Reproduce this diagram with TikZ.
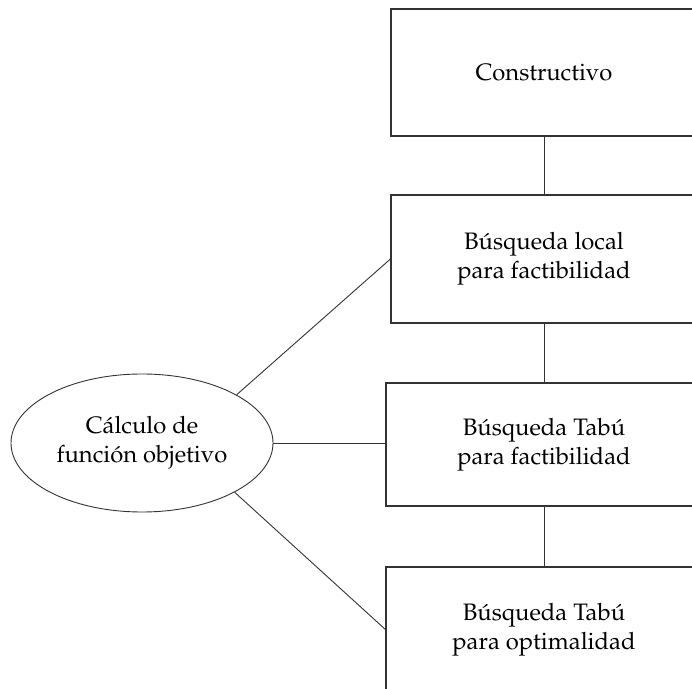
\documentclass[tikz,border=0pt]{standalone}
\usepackage[T1]{fontenc}
\usepackage{mathpazo}
\usetikzlibrary{shapes.geometric}
\begin{document}
\begin{tikzpicture}[x=0.5pt,y=-0.5pt,
		caja/.style={draw=black!80,line width=0.6pt,align=center,inner sep=0pt,
			font=\fontsize{11.9}{14.5}\selectfont},
		elipse/.style={ellipse,draw=black!80,line width=0.45pt,align=center,inner sep=0pt,
			minimum width=131pt,minimum height=69pt,font=\fontsize{11.9}{14.5}\selectfont},
		linea/.style={draw=black!80,line width=0.45pt}]
		\useasboundingbox (0,0) rectangle (692,689);
		\clip (0,0) rectangle (692,689);
		% cajas del metodo
		\node[caja,minimum width=153pt,minimum height=63.5pt] (constr) at (544,72.5) {Constructivo};
		\node[caja,minimum width=153pt,minimum height=64pt] (blocal) at (544,259) {B\'usqueda local\\para factibilidad};
		\node[caja,minimum width=158pt,minimum height=61.5pt] (btabuf) at (544,444.5) {B\'usqueda Tab\'u\\para factibilidad};
		\node[caja,minimum width=158pt,minimum height=62.5pt] (btabuo) at (544,629.5) {B\'usqueda Tab\'u\\para optimalidad};
		% funcion objetivo
		\node[elipse] (calc) at (142,443) {C\'alculo de\\funci\'on objetivo};
		\draw[linea] (constr) -- (blocal);
		\draw[linea] (blocal) -- (btabuf);
		\draw[linea] (btabuf) -- (btabuo);
		\draw[linea] (calc.27) -- (blocal.west);
		\draw[linea] (calc.east) -- (calc.east -| btabuf.west);
		\draw[linea] (calc.-28) -- (btabuo.west);
	\end{tikzpicture}
\end{document}
